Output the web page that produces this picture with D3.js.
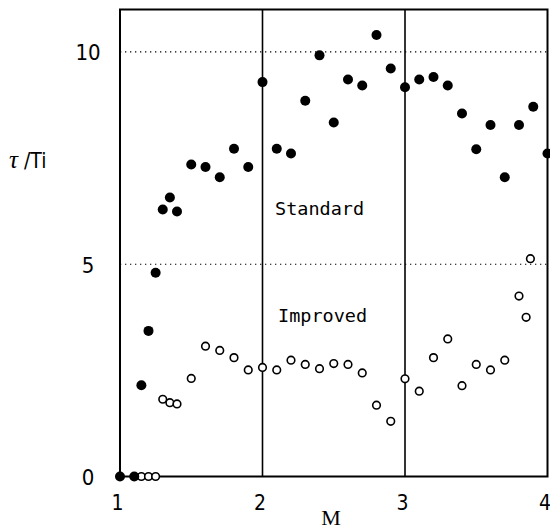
<!DOCTYPE html>
<html>
<head>
<meta charset="utf-8">
<script src="https://cdn.jsdelivr.net/npm/d3@7"></script>
<style>
html,body{margin:0;padding:0;background:#fff;}
svg{display:block;}
</style>
</head>
<body>
<script>
// ---- data ----
const standardX = [1.0, 1.1, 1.15, 1.2, 1.25, 1.3, 1.35, 1.4, 1.5, 1.6, 1.7, 1.8, 1.9, 2.0, 2.1, 2.2, 2.3, 2.4, 2.5, 2.6, 2.7, 2.8, 2.9, 3.0, 3.1, 3.2, 3.3, 3.4, 3.5, 3.6, 3.7, 3.8, 3.9, 4.0];
const standardY = [0, 0, 2.15, 3.43, 4.80, 6.29, 6.57, 6.24, 7.35, 7.29, 7.05, 7.72, 7.29, 9.29, 7.72, 7.61, 8.85, 9.92, 8.34, 9.35, 9.21, 10.40, 9.61, 9.17, 9.35, 9.41, 9.21, 8.55, 7.71, 8.28, 7.05, 8.28, 8.71, 7.61];
const improvedX = [1.15, 1.2, 1.25, 1.3, 1.35, 1.4, 1.5, 1.6, 1.7, 1.8, 1.9, 2.0, 2.1, 2.2, 2.3, 2.4, 2.5, 2.6, 2.7, 2.8, 2.9, 3.0, 3.1, 3.2, 3.3, 3.4, 3.5, 3.6, 3.7, 3.8, 3.85, 3.88];
const improvedY = [0, 0, 0, 1.82, 1.74, 1.71, 2.31, 3.07, 2.97, 2.80, 2.51, 2.57, 2.51, 2.74, 2.64, 2.54, 2.66, 2.64, 2.44, 1.68, 1.30, 2.30, 2.01, 2.80, 3.24, 2.14, 2.64, 2.51, 2.74, 4.25, 3.75, 5.13];
const xTicks = [1, 2, 3, 4];
const yTicks = [0, 5, 10];
const xLabel = "M";
const seriesLabels = ["Standard", "Improved"];

// ---- layout ----
const W = 550, H = 530;
const svg = d3.select("body").append("svg").attr("width", W).attr("height", H);
const x = d3.scaleLinear().domain([1, 4]).range([120, 547.5]);
const y = d3.scaleLinear().domain([0, 11]).range([476.5, 9.5]);

const narrow = "'Liberation Sans Narrow','DejaVu Sans Condensed','Liberation Sans',sans-serif";

// dotted horizontal grid lines at 5 and 10
svg.append("g").selectAll("line").data(yTicks.filter(d => d > 0)).join("line")
  .attr("x1", x(1)).attr("x2", x(4))
  .attr("y1", d => y(d)).attr("y2", d => y(d))
  .attr("stroke", "#000").attr("stroke-width", 1.2)
  .attr("stroke-dasharray", "1.3,3.7");

// solid vertical lines at 2 and 3
svg.append("g").selectAll("line").data(xTicks.filter(d => d > 1 && d < 4)).join("line")
  .attr("x1", d => x(d)).attr("x2", d => x(d))
  .attr("y1", y(0)).attr("y2", y(11))
  .attr("stroke", "#000").attr("stroke-width", 1.6);

// frame
svg.append("rect")
  .attr("x", x(1)).attr("y", y(11))
  .attr("width", x(4) - x(1)).attr("height", y(0) - y(11))
  .attr("fill", "none").attr("stroke", "#000").attr("stroke-width", 2);

// axes (labels only)
const xAxis = d3.axisBottom(x).tickValues(xTicks).tickSize(0).tickPadding(0).tickFormat(d3.format("d"));
const gx = svg.append("g").attr("transform", `translate(-3,${y(0)})`).call(xAxis);
gx.select(".domain").remove();
gx.selectAll("text").attr("font-family", narrow).attr("font-size", 21)
  .attr("dy", null).attr("y", 33).attr("fill", "#000");

const yAxis = d3.axisLeft(y).tickValues(yTicks).tickSize(0).tickPadding(0).tickFormat(d3.format("d"));
const gy = svg.append("g").attr("transform", `translate(88,0)`).call(yAxis);
gy.select(".domain").remove();
gy.selectAll("text").attr("font-family", narrow).attr("font-size", 22)
  .attr("text-anchor", "middle").attr("x", 0).attr("dy", "0.36em").attr("fill", "#000");

// axis titles
svg.append("text").attr("x", 331).attr("y", 525)
  .attr("text-anchor", "middle")
  .attr("font-family", "'Liberation Serif','DejaVu Serif',serif")
  .attr("font-size", 22).text(xLabel);

const yt = svg.append("text").attr("x", 9).attr("y", 168)
  .attr("font-size", 21);
yt.append("tspan").attr("font-family", "'Liberation Serif','DejaVu Serif',serif")
  .attr("font-style", "italic").attr("font-size", 25).text("τ");
yt.append("tspan").attr("font-family", narrow).attr("dx", 6).text("/Ti");

// series labels
svg.append("text").attr("x", 275).attr("y", 215)
  .attr("font-family", "'DejaVu Sans Mono','Liberation Mono',monospace")
  .attr("font-size", 18.5).text(seriesLabels[0]);
svg.append("text").attr("x", 278).attr("y", 322)
  .attr("font-family", "'DejaVu Sans Mono','Liberation Mono',monospace")
  .attr("font-size", 18.5).text(seriesLabels[1]);

// improved (open circles)
svg.append("g").selectAll("circle").data(improvedX.map((d, i) => [d, improvedY[i]])).join("circle")
  .attr("cx", d => x(d[0])).attr("cy", d => y(d[1])).attr("r", 3.8)
  .attr("fill", "#fff").attr("stroke", "#000").attr("stroke-width", 1.6);

// standard (filled circles)
svg.append("g").selectAll("circle").data(standardX.map((d, i) => [d, standardY[i]])).join("circle")
  .attr("cx", d => x(d[0])).attr("cy", d => y(d[1])).attr("r", 5)
  .attr("fill", "#000");
</script>
</body>
</html>
